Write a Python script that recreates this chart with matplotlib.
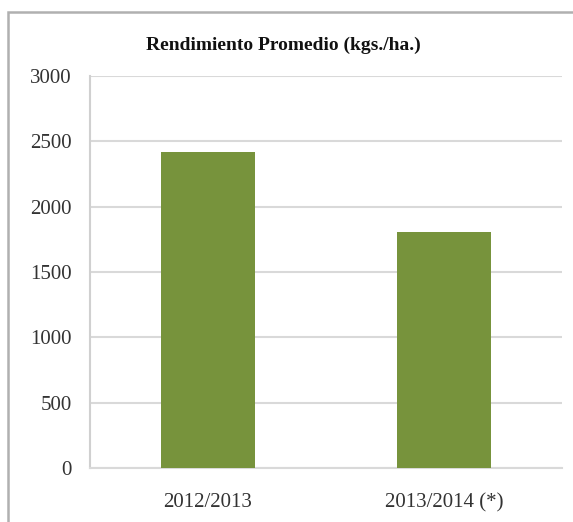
import matplotlib
matplotlib.use("Agg")
import matplotlib.pyplot as plt
from matplotlib.patches import Rectangle

categories = ["2012/2013", "2013/2014 (*)"]
values = [2420, 1805]
yticks = [0, 500, 1000, 1500, 2000, 2500, 3000]
title = "Rendimiento Promedio (kgs./ha.)"

W, H = 573, 522
fig = plt.figure(figsize=(W / 100, H / 100), dpi=100)
fig.patch.set_facecolor("white")

# outer chart frame (cropped on right and bottom)
fig.patches.append(Rectangle((8 / W, -0.2), 1.5, 1.2 - 12 / H, transform=fig.transFigure,
                             fill=False, edgecolor="#b0b0b0", linewidth=1.8, zorder=0))

ax = fig.add_axes([90 / W, (H - 468) / H, 472 / W, 392 / H])
x = list(range(len(categories)))
ax.bar(x, values, width=0.40, color="#77933C", zorder=3)
ax.set_xlim(-0.5, len(categories) - 0.5)
ax.set_ylim(0, 3000)
ax.set_yticks(yticks)
ax.set_yticklabels([str(v) for v in yticks])
ax.set_xticks(x)
ax.set_xticklabels(categories)
ax.grid(axis="y", color="#d9d9d9", linewidth=1.5, zorder=0)
ax.set_axisbelow(True)
for s in ["top", "right"]:
    ax.spines[s].set_visible(False)
ax.spines["left"].set_color("#d0d0d0")
ax.spines["left"].set_linewidth(1.5)
ax.spines["bottom"].set_color("#d9d9d9")
ax.spines["bottom"].set_linewidth(1.5)
ax.tick_params(axis="both", length=0, labelsize=15, colors="#333333")
ax.tick_params(axis="y", pad=13)
ax.tick_params(axis="x", pad=18)
for lab in ax.get_xticklabels() + ax.get_yticklabels():
    lab.set_fontfamily("Liberation Serif")

fig.text(283 / W, 1 - 45 / H, title, ha="center", va="center", fontsize=14,
         fontweight="bold", fontfamily="Liberation Serif", color="#111111")

fig.savefig("out.png", dpi=100)
